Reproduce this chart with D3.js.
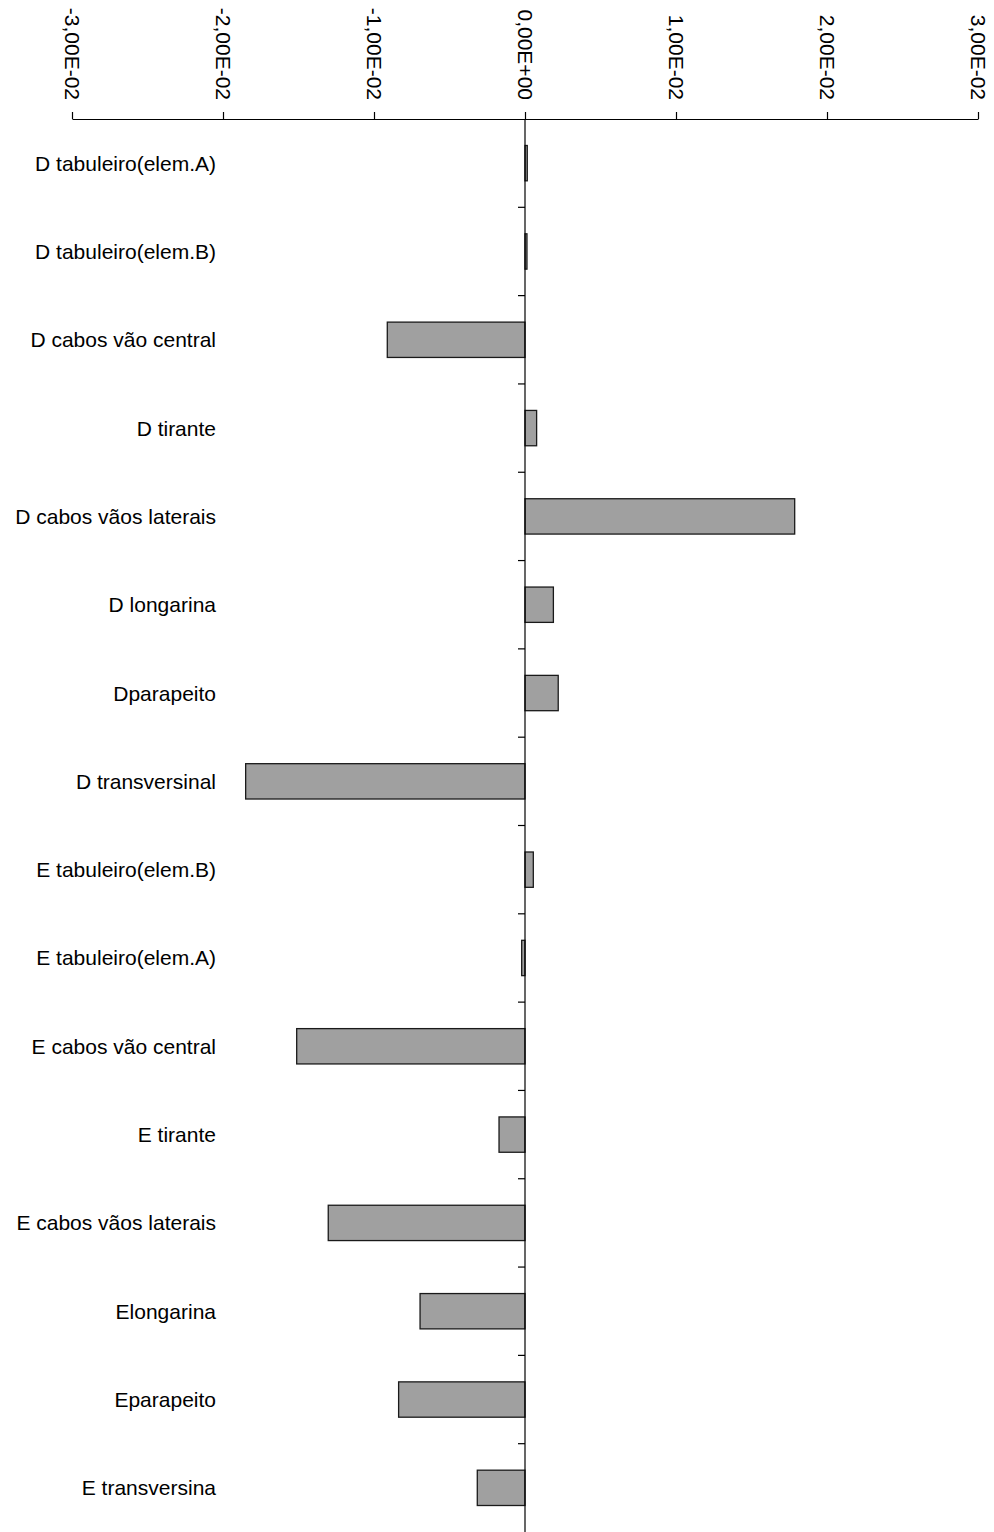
<!DOCTYPE html>
<html><head><meta charset="utf-8">
<script src="https://cdn.jsdelivr.net/npm/d3@7"></script>
<style>
html,body{margin:0;padding:0;background:#fff;}
svg{display:block;}
text{font-family:"Liberation Sans",Arial,sans-serif;fill:#000;}
</style></head>
<body>
<svg id="chart" width="994" height="1532"></svg>
<script>
const categories = [
  "D tabuleiro(elem.A)", "D tabuleiro(elem.B)", "D cabos vão central", "D tirante",
  "D cabos vãos laterais", "D longarina", "Dparapeito", "D transversinal",
  "E tabuleiro(elem.B)", "E tabuleiro(elem.A)", "E cabos vão central", "E tirante",
  "E cabos vãos laterais", "Elongarina", "Eparapeito", "E transversina"
];
const values = [
  0.00015, 0.00013, -0.00912, 0.00077,
  0.01786, 0.00188, 0.0022, -0.0185,
  0.00055, -0.00022, -0.01512, -0.00172,
  -0.01303, -0.00695, -0.00837, -0.00316
];
const xTickValues = [-0.03, -0.02, -0.01, 0, 0.01, 0.02, 0.03];
const xTickLabels = ["-3,00E-02", "-2,00E-02", "-1,00E-02", "0,00E+00", "1,00E-02", "2,00E-02", "3,00E-02"];

const svg = d3.select("#chart");
const x = d3.scaleLinear().domain([-0.03, 0.03]).range([72, 978]);
const y = d3.scaleBand().domain(categories).range([119, 1532]).paddingInner(0.6).paddingOuter(0.3);
const axisY = 119;

// X axis on top
const xAxis = d3.axisTop(x).tickValues(xTickValues).tickSize(7).tickSizeOuter(0)
  .tickFormat((d, i) => xTickLabels[i]);
const gx = svg.append("g").attr("transform", `translate(0,${axisY})`).call(xAxis);
gx.select(".domain").attr("stroke", "#000").attr("stroke-width", 1.2);
gx.selectAll(".tick line").attr("stroke", "#000").attr("stroke-width", 1.2);
gx.selectAll(".tick text")
  .attr("font-size", 21)
  .attr("font-family", "'Liberation Sans',Arial,sans-serif")
  .attr("fill", "#000")
  .attr("text-anchor", "end")
  .attr("dominant-baseline", "central")
  .attr("x", 0).attr("y", 0).attr("dy", null)
  .attr("transform", "translate(0,-19) rotate(90)");

// Bars
svg.append("g").selectAll("rect").data(categories).join("rect")
  .attr("x", (d, i) => Math.min(x(0), x(values[i])))
  .attr("y", d => y(d))
  .attr("width", (d, i) => Math.max(Math.abs(x(values[i]) - x(0)), 0.8))
  .attr("height", y.bandwidth())
  .attr("fill", "#a0a0a0")
  .attr("stroke", "#1a1a1a")
  .attr("stroke-width", 1.3);

// Zero line (category axis)
svg.append("line")
  .attr("x1", x(0)).attr("x2", x(0))
  .attr("y1", axisY).attr("y2", 1532)
  .attr("stroke", "#000").attr("stroke-width", 1.2);

// Category boundary ticks
const step = y.step();
const boundaries = d3.range(1, categories.length).map(k => y.range()[0] + k * step);
svg.append("g").selectAll("line").data(boundaries).join("line")
  .attr("x1", x(0) - 7).attr("x2", x(0))
  .attr("y1", d => d).attr("y2", d => d)
  .attr("stroke", "#000").attr("stroke-width", 1.2);

// Category labels
svg.append("g").selectAll("text").data(categories).join("text")
  .attr("x", 216)
  .attr("y", d => y(d) + y.bandwidth() / 2)
  .attr("text-anchor", "end")
  .attr("dominant-baseline", "central")
  .attr("font-size", 21)
  .text(d => d);
</script>
</body></html>
